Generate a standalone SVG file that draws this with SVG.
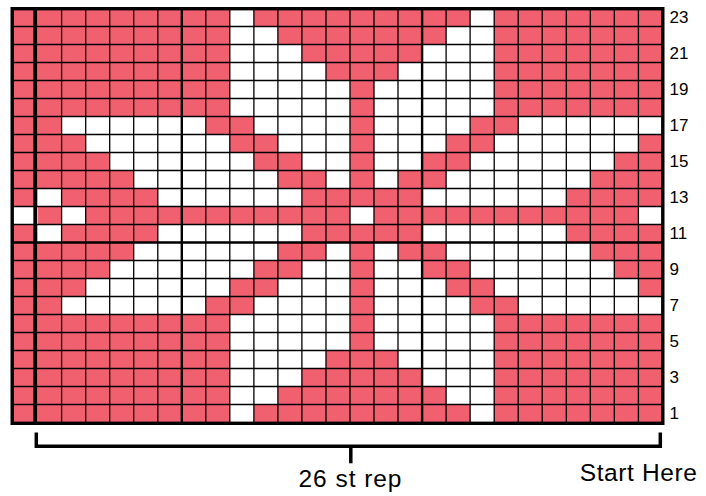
<svg xmlns="http://www.w3.org/2000/svg" width="706" height="496" viewBox="0 0 706 496">
<style>
.bg{fill:#F0606E}
.w{fill:#ffffff}
.thin{fill:none;stroke:#000;stroke-width:1.3}
.heavy{fill:none;stroke:#000;stroke-width:2.4}
.sep{fill:none;stroke:#000;stroke-width:3.7}
.border{fill:none;stroke:#000;stroke-width:3.4}
.lbl{font-family:"Liberation Sans",Arial,Helvetica,sans-serif;font-size:17px;fill:#000}
.cap{font-family:"Liberation Sans",Arial,Helvetica,sans-serif;font-size:24.5px;fill:#000}
.br{fill:none;stroke:#000;stroke-width:3.5}
</style>
<g id="chart">
<rect class="bg" x="12" y="8.5" width="650.4" height="414"/>
<g id="white-cells" class="w">
<rect x="229.8" y="8.5" width="24.1" height="18"/><rect x="470.1" y="8.5" width="24.1" height="18"/>
<rect x="229.8" y="26.5" width="48.1" height="18"/><rect x="446.1" y="26.5" width="48.1" height="18"/>
<rect x="229.8" y="44.5" width="72.1" height="18"/><rect x="422.1" y="44.5" width="72.1" height="18"/>
<rect x="229.8" y="62.5" width="96.2" height="18"/><rect x="398" y="62.5" width="96.2" height="18"/>
<rect x="229.8" y="80.5" width="120.2" height="36"/><rect x="374" y="80.5" width="120.2" height="36"/>
<rect x="61.6" y="116.5" width="144.2" height="18"/><rect x="253.9" y="116.5" width="96.1" height="18"/><rect x="374" y="116.5" width="96.1" height="18"/><rect x="518.2" y="116.5" width="144.2" height="18"/>
<rect x="85.7" y="134.5" width="144.1" height="18"/><rect x="277.9" y="134.5" width="72.1" height="18"/><rect x="374" y="134.5" width="72.1" height="18"/><rect x="494.2" y="134.5" width="144.2" height="18"/>
<rect x="109.7" y="152.5" width="144.2" height="18"/><rect x="301.9" y="152.5" width="48.1" height="18"/><rect x="374" y="152.5" width="48.1" height="18"/><rect x="470.1" y="152.5" width="144.2" height="18"/>
<rect x="133.7" y="170.5" width="144.2" height="18"/><rect x="326" y="170.5" width="24" height="18"/><rect x="374" y="170.5" width="24" height="18"/><rect x="446.1" y="170.5" width="144.2" height="18"/>
<rect x="37.6" y="188.5" width="24" height="18"/><rect x="157.8" y="188.5" width="144.1" height="18"/><rect x="422.1" y="188.5" width="144.2" height="18"/>
<rect x="12" y="206.5" width="25.6" height="18"/><rect x="61.6" y="206.5" width="24.1" height="18"/><rect x="350" y="206.5" width="24" height="18"/><rect x="638.4" y="206.5" width="24" height="18"/>
<rect x="37.6" y="224.5" width="24" height="18"/><rect x="157.8" y="224.5" width="144.1" height="18"/><rect x="422.1" y="224.5" width="144.2" height="18"/>
<rect x="133.7" y="242.5" width="144.2" height="18"/><rect x="326" y="242.5" width="24" height="18"/><rect x="374" y="242.5" width="24" height="18"/><rect x="446.1" y="242.5" width="144.2" height="18"/>
<rect x="109.7" y="260.5" width="144.2" height="18"/><rect x="301.9" y="260.5" width="48.1" height="18"/><rect x="374" y="260.5" width="48.1" height="18"/><rect x="470.1" y="260.5" width="144.2" height="18"/>
<rect x="85.7" y="278.5" width="144.1" height="18"/><rect x="277.9" y="278.5" width="72.1" height="18"/><rect x="374" y="278.5" width="72.1" height="18"/><rect x="494.2" y="278.5" width="144.2" height="18"/>
<rect x="61.6" y="296.5" width="144.2" height="18"/><rect x="253.9" y="296.5" width="96.1" height="18"/><rect x="374" y="296.5" width="96.1" height="18"/><rect x="518.2" y="296.5" width="144.2" height="18"/>
<rect x="229.8" y="314.5" width="120.2" height="36"/><rect x="374" y="314.5" width="120.2" height="36"/>
<rect x="229.8" y="350.5" width="96.2" height="18"/><rect x="398" y="350.5" width="96.2" height="18"/>
<rect x="229.8" y="368.5" width="72.1" height="18"/><rect x="422.1" y="368.5" width="72.1" height="18"/>
<rect x="229.8" y="386.5" width="48.1" height="18"/><rect x="446.1" y="386.5" width="48.1" height="18"/>
<rect x="229.8" y="404.5" width="24.1" height="18"/><rect x="470.1" y="404.5" width="24.1" height="18"/>
</g>
<path id="grid-thin" class="thin" d="M61.6 8.5V422.5M85.7 8.5V422.5M109.7 8.5V422.5M133.7 8.5V422.5M157.8 8.5V422.5M205.8 8.5V422.5M229.8 8.5V422.5M253.9 8.5V422.5M277.9 8.5V422.5M301.9 8.5V422.5M326 8.5V422.5M350 8.5V422.5M374 8.5V422.5M398 8.5V422.5M446.1 8.5V422.5M470.1 8.5V422.5M494.2 8.5V422.5M518.2 8.5V422.5M542.2 8.5V422.5M566.3 8.5V422.5M590.3 8.5V422.5M614.3 8.5V422.5M638.4 8.5V422.5M12 26.5H662.4M12 44.5H662.4M12 62.5H662.4M12 80.5H662.4M12 98.5H662.4M12 116.5H662.4M12 134.5H662.4M12 152.5H662.4M12 170.5H662.4M12 188.5H662.4M12 206.5H662.4M12 224.5H662.4M12 260.5H662.4M12 278.5H662.4M12 296.5H662.4M12 314.5H662.4M12 332.5H662.4M12 350.5H662.4M12 368.5H662.4M12 386.5H662.4M12 404.5H662.4"/>
<path id="grid-heavy" class="heavy" d="M181.8 8.5V422.5M422.1 8.5V422.5M12 242.5H662.4"/>
<path id="repeat-line" class="sep" d="M35.2 8.5V423"/>
<rect id="border" class="border" x="12.2" y="8.7" width="650.6" height="414.6"/>
</g>
<g id="row-numbers" class="lbl">
<text x="669.5" y="23.3">23</text>
<text x="669.5" y="59.3">21</text>
<text x="669.5" y="95.3">19</text>
<text x="669.5" y="131.3">17</text>
<text x="669.5" y="167.3">15</text>
<text x="669.5" y="203.3">13</text>
<text x="669.5" y="239.3">11</text>
<text x="669.5" y="275.3">9</text>
<text x="669.5" y="311.3">7</text>
<text x="669.5" y="347.3">5</text>
<text x="669.5" y="383.3">3</text>
<text x="669.5" y="419.3">1</text>
</g>
<g id="repeat-bracket">
<path class="br" d="M36.3 432.5V446.2H660.3V432.5"/>
<path class="br" d="M350.8 446V463.3"/>
<text class="cap" x="298.5" y="486.5" textLength="103" lengthAdjust="spacing">26 st rep</text>
</g>
<g id="start-label">
<text class="cap" x="579.8" y="480.5" textLength="117" lengthAdjust="spacing">Start Here</text>
</g>
</svg>
